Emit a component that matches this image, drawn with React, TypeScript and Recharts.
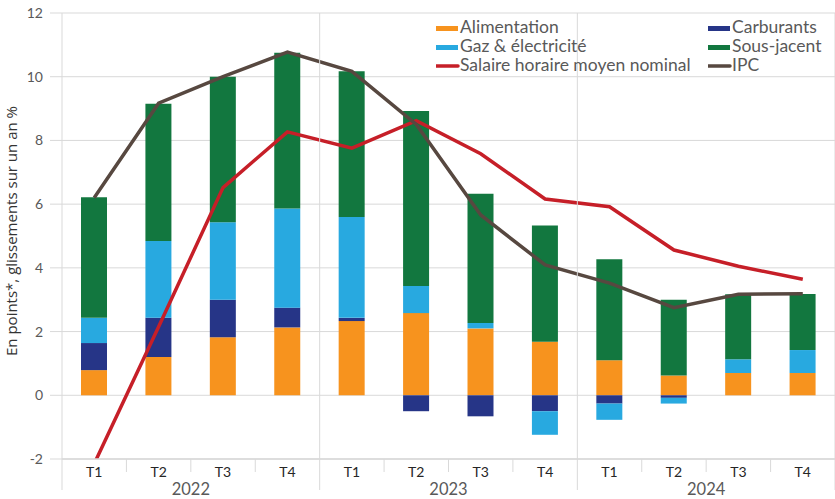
import React from 'react';
import { ComposedChart, Bar, Line, XAxis, YAxis, CartesianGrid, Legend } from 'recharts';

// ---- Data ----
const quarters = ['T1', 'T2', 'T3', 'T4', 'T1', 'T2', 'T3', 'T4', 'T1', 'T2', 'T3', 'T4'];
const years = ['2022', '2022', '2022', '2022', '2023', '2023', '2023', '2023', '2024', '2024', '2024', '2024'];
const alimentation = [0.79, 1.2, 1.82, 2.13, 2.33, 2.58, 2.1, 1.68, 1.1, 0.62, 0.7, 0.7];
const carburants = [0.85, 1.23, 1.18, 0.62, 0.1, -0.5, -0.66, -0.5, -0.26, -0.08, 0, 0];
const gazElectricite = [0.79, 2.41, 2.43, 3.11, 3.17, 0.85, 0.17, -0.74, -0.51, -0.18, 0.43, 0.72];
const sousJacent = [3.79, 4.31, 4.57, 4.89, 4.57, 5.49, 4.06, 3.65, 3.17, 2.38, 2.04, 1.76];
const salaire = [-2.15, 2.15, 6.52, 8.27, 7.76, 8.62, 7.58, 6.16, 5.92, 4.56, 4.05, 3.64];
const ipc = [6.2, 9.17, 10.0, 10.77, 10.17, 8.5, 5.66, 4.09, 3.52, 2.75, 3.17, 3.19];
const yTicks = [-2, 0, 2, 4, 6, 8, 10, 12];

const seriesNames = {
  alim: 'Alimentation',
  carb: 'Carburants',
  gaz: 'Gaz & électricité',
  sous: 'Sous-jacent',
  sal: 'Salaire horaire moyen nominal',
  ipc: 'IPC',
};
const yLabel = 'En points*, glissements sur un an %';

const data = quarters.map((q, i) => ({
  cat: `${q} ${years[i]}`,
  q,
  year: years[i],
  alim: alimentation[i],
  carb: carburants[i],
  gaz: gazElectricite[i],
  sous: sousJacent[i],
  sal: salaire[i],
  ipc: ipc[i],
}));

// ---- Styles / layout ----
const COLORS = {
  alim: '#F7931E',
  carb: '#263587',
  gaz: '#28A9E0',
  sous: '#12773F',
  sal: '#C61F28',
  ipc: '#574840',
};
const GRID = '#d9d9d9';
const W = 835;
const H = 499;
const M_TOP = 13;
const Y_W = 62;
const X_H = 40;
const PLOT_TOP = M_TOP;
const PLOT_BOTTOM = H - X_H;
const BAND = (W - Y_W) / quarters.length;
const FONT = 'Lato, "Open Sans", sans-serif';
const LABEL_FONT = '"Open Sans", Lato, sans-serif';

const legendItems = [
  { key: 'alim', type: 'rect' },
  { key: 'carb', type: 'rect' },
  { key: 'gaz', type: 'rect' },
  { key: 'sous', type: 'rect' },
  { key: 'sal', type: 'line' },
  { key: 'ipc', type: 'line' },
];

const LegendContent = () => (
  <div
    style={{
      display: 'grid',
      gridTemplateColumns: '272px auto',
      fontFamily: FONT,
      fontSize: 17.5,
      color: '#595959',
      lineHeight: '19px',
    }}
  >
    {legendItems.map((it) => (
      <div key={it.key} style={{ display: 'flex', alignItems: 'center', height: 19, whiteSpace: 'nowrap' }}>
        <svg width={24} height={19} style={{ flex: 'none' }}>
          {it.type === 'rect' ? (
            <rect x={0} y={9} width={22} height={5} fill={COLORS[it.key]} />
          ) : (
            <line x1={0} x2={22} y1={11} y2={11} stroke={COLORS[it.key]} strokeWidth={3.5} strokeLinecap="round" />
          )}
        </svg>
        <span>{seriesNames[it.key]}</span>
      </div>
    ))}
  </div>
);

const QuarterTick = (props: any) => {
  const { x, payload, index } = props;
  const entry = data[index] || data.find((d) => d.cat === payload.value);
  const left = x - BAND / 2;
  const right = x + BAND / 2;
  const isYearStart = index % 4 === 0;
  return (
    <g>
      {isYearStart ? (
        <line x1={left} x2={left} y1={index === 0 ? PLOT_BOTTOM : PLOT_TOP} y2={490} stroke={GRID} strokeWidth={1} />
      ) : (
        <line x1={left} x2={left} y1={PLOT_BOTTOM} y2={472} stroke={GRID} strokeWidth={1} />
      )}
      {index === quarters.length - 1 && (
        <line x1={right} x2={right} y1={PLOT_TOP} y2={490} stroke={GRID} strokeWidth={1} />
      )}
      <text x={x} y={477} textAnchor="middle" fontSize={14} fill="#262626" fontFamily={FONT}>
        {entry ? entry.q : ''}
      </text>
      {index % 4 === 1 && entry && (
        <text x={right} y={495} textAnchor="middle" fontSize={16.5} fill="#595959" fontFamily={FONT}>
          {entry.year}
        </text>
      )}
    </g>
  );
};

const renderYLabel = (props: any) => {
  const vb = props.viewBox || { y: PLOT_TOP, height: PLOT_BOTTOM - PLOT_TOP };
  const cy = vb.y + vb.height / 2 - 5;
  return (
    <text
      x={0}
      y={0}
      transform={`translate(17, ${cy}) rotate(-90)`}
      textAnchor="middle"
      fontSize={15}
      fill="#333333"
      fontFamily={LABEL_FONT}
    >
      {yLabel}
    </text>
  );
};

export default function App() {
  return (
    <div style={{ position: 'absolute', left: 0, top: 0, width: W, height: H, fontFamily: FONT, background: '#fff' }}>
      <ComposedChart
        width={W}
        height={H}
        data={data}
        stackOffset="sign"
        margin={{ top: M_TOP, right: 0, left: 0, bottom: 0 }}
      >
        <CartesianGrid vertical={false} stroke={GRID} />
        <XAxis
          dataKey="cat"
          height={X_H}
          interval={0}
          tickLine={false}
          axisLine={{ stroke: GRID, strokeWidth: 1.5 }}
          tick={<QuarterTick />}
        />
        <YAxis
          width={Y_W}
          domain={[-2, 12]}
          ticks={yTicks}
          allowDataOverflow
          interval={0}
          tickSize={12}
          tickMargin={7}
          tickLine={{ stroke: GRID }}
          axisLine={{ stroke: GRID }}
          tick={{ fontSize: 14, fill: '#595959', fontFamily: FONT }}
          label={renderYLabel}
        />
        <Legend
          layout="horizontal"
          verticalAlign="middle"
          align="center"
          content={<LegendContent />}
          wrapperStyle={{ position: 'absolute', left: 436, top: 17, width: 400 }}
        />
        <Bar dataKey="alim" name={seriesNames.alim} stackId="a" fill={COLORS.alim} barSize={26} isAnimationActive={false} />
        <Bar dataKey="carb" name={seriesNames.carb} stackId="a" fill={COLORS.carb} barSize={26} isAnimationActive={false} />
        <Bar dataKey="gaz" name={seriesNames.gaz} stackId="a" fill={COLORS.gaz} barSize={26} isAnimationActive={false} />
        <Bar dataKey="sous" name={seriesNames.sous} stackId="a" fill={COLORS.sous} barSize={26} isAnimationActive={false} />
        <Line
          type="linear"
          dataKey="sal"
          name={seriesNames.sal}
          stroke={COLORS.sal}
          strokeWidth={3.5}
          dot={false}
          activeDot={false}
          isAnimationActive={false}
        />
        <Line
          type="linear"
          dataKey="ipc"
          name={seriesNames.ipc}
          stroke={COLORS.ipc}
          strokeWidth={3.5}
          dot={false}
          activeDot={false}
          isAnimationActive={false}
        />
      </ComposedChart>
    </div>
  );
}
